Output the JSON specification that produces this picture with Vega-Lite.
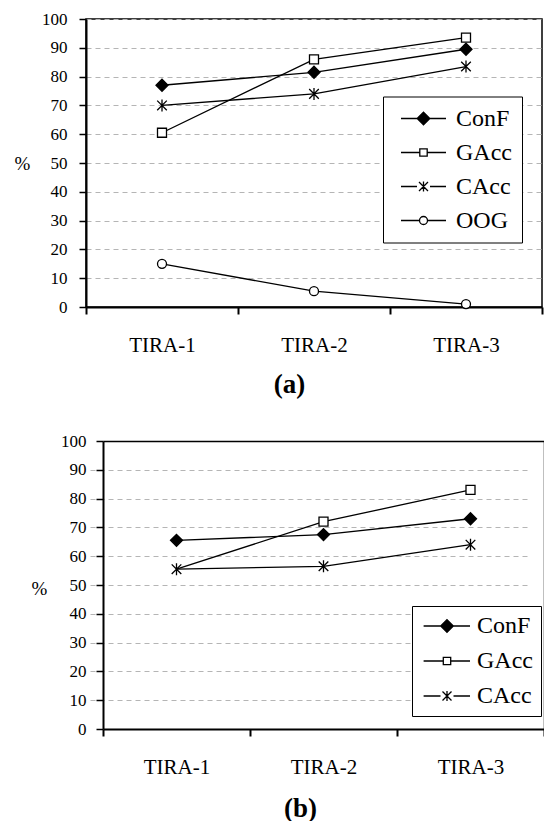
{
  "$schema": "https://vega.github.io/schema/vega-lite/v6.json",
  "background": "white",
  "padding": {"left": 13, "top": 9, "right": 0, "bottom": 0},
  "config": {
    "font": "Liberation Serif",
    "view": {"stroke": "black", "strokeWidth": 1.5},
    "axis": {"labelColor": "black", "titleColor": "black", "domainColor": "black", "tickColor": "black", "labelFont": "Liberation Serif", "titleFont": "Liberation Serif"},
    "legend": {"strokeColor": "black", "fillColor": "white", "labelFont": "Liberation Serif", "labelFontSize": 24, "labelColor": "black", "symbolSize": 400, "symbolStrokeWidth": 1.3, "symbolStrokeColor": "black"}
  },
  "datasets": {
    "a": [
      {"run": "TIRA-1", "series": "ConF", "value": 77},
      {"run": "TIRA-2", "series": "ConF", "value": 81.5},
      {"run": "TIRA-3", "series": "ConF", "value": 89.5},
      {"run": "TIRA-1", "series": "GAcc", "value": 60.5},
      {"run": "TIRA-2", "series": "GAcc", "value": 86},
      {"run": "TIRA-3", "series": "GAcc", "value": 93.5},
      {"run": "TIRA-1", "series": "CAcc", "value": 70},
      {"run": "TIRA-2", "series": "CAcc", "value": 74},
      {"run": "TIRA-3", "series": "CAcc", "value": 83.5},
      {"run": "TIRA-1", "series": "OOG", "value": 15},
      {"run": "TIRA-2", "series": "OOG", "value": 5.5},
      {"run": "TIRA-3", "series": "OOG", "value": 1}
    ],
    "b": [
      {"run": "TIRA-1", "series": "ConF", "value": 65.5},
      {"run": "TIRA-2", "series": "ConF", "value": 67.5},
      {"run": "TIRA-3", "series": "ConF", "value": 73},
      {"run": "TIRA-1", "series": "GAcc", "value": 55.5},
      {"run": "TIRA-2", "series": "GAcc", "value": 72},
      {"run": "TIRA-3", "series": "GAcc", "value": 83},
      {"run": "TIRA-1", "series": "CAcc", "value": 55.5},
      {"run": "TIRA-2", "series": "CAcc", "value": 56.5},
      {"run": "TIRA-3", "series": "CAcc", "value": 64}
    ]
  },
  "columns": 1,
  "spacing": 34,
  "resolve": {"scale": {"shape": "independent", "fill": "independent", "stroke": "independent"}, "legend": {"shape": "independent", "fill": "independent", "stroke": "independent"}},
  "concat": [
    {
      "width": 456,
      "height": 288,
      "data": {"name": "a"},
      "resolve": {"scale": {"shape": "independent", "fill": "independent", "stroke": "independent"}, "legend": {"shape": "independent", "fill": "independent", "stroke": "independent"}},
      "encoding": {
        "x": {
          "field": "run", "type": "nominal", "sort": ["TIRA-1", "TIRA-2", "TIRA-3"],
          "scale": {"type": "band", "paddingInner": 0, "paddingOuter": 0},
          "axis": {"title": "(a)", "titleX": 203, "titleY": 77, "titleFontSize": 27, "titleFontWeight": "bold", "titleBaseline": "middle", "titleAlign": "center", "labelAngle": 0, "labelFontSize": 21, "labelPadding": 20, "tickBand": "extent", "tickSize": 7, "tickWidth": 2, "domainWidth": 2, "grid": false}
        },
        "y": {
          "field": "value", "type": "quantitative",
          "scale": {"domain": [0, 100], "nice": false},
          "axis": {"title": "%", "titleAngle": 0, "titleX": -64, "titleY": 144, "titleAlign": "center", "titleBaseline": "middle", "titleFontSize": 19, "titleFontWeight": "normal", "values": [0, 10, 20, 30, 40, 50, 60, 70, 80, 90, 100], "labelFontSize": 17, "labelPadding": 12, "tickSize": 7, "tickWidth": 1.5, "domainWidth": 2, "grid": true, "gridDash": [5, 4], "gridColor": "#b5b5b5", "gridWidth": 1}
        }
      },
      "layer": [
        {
          "mark": {"type": "line", "color": "black", "strokeWidth": 1.3},
          "encoding": {"detail": {"field": "series", "type": "nominal"}}
        },
        {
          "mark": {"type": "point", "stroke": "black", "strokeWidth": 1.3, "opacity": 1, "size": 144},
          "encoding": {
            "shape": {
              "field": "series", "type": "nominal",
              "scale": {"domain": ["ConF", "GAcc", "CAcc", "OOG"], "range": ["M0,-1L1,0L0,1L-1,0Z", "M-0.75,-0.75H0.75V0.75H-0.75Z", "M-0.8,-0.8L0.8,0.8M-0.8,0.8L0.8,-0.8M0,-1V1", "M-0.75,0A0.75,0.75 0 1,0 0.75,0A0.75,0.75 0 1,0 -0.75,0Z"]},
              "legend": null
            },
            "fill": {
              "field": "series", "type": "nominal",
              "scale": {"domain": ["ConF", "GAcc", "CAcc", "OOG"], "range": ["black", "white", "white", "white"]},
              "legend": null
            }
          }
        },
        {
          "transform": [{"filter": "false"}],
          "mark": {"type": "point", "stroke": "black", "strokeWidth": 1.3, "opacity": 1, "size": 400},
          "encoding": {
            "shape": {
              "field": "series", "type": "nominal",
              "scale": {"domain": ["ConF", "GAcc", "CAcc", "OOG"], "range": ["M-0.4,0H4.1M1.22,0L1.85,-0.63L2.48,0L1.85,0.63Z", "M-0.4,0H1.48M2.22,0H4.1M1.48,-0.37H2.22V0.37H1.48Z", "M-0.4,0H1.2M2.5,0H4.1M1.4,-0.45L2.3,0.45M1.4,0.45L2.3,-0.45M1.85,-0.5V0.5", "M-0.4,0H1.45M2.25,0H4.1M1.45,0A0.4,0.4 0 1,0 2.25,0A0.4,0.4 0 1,0 1.45,0Z"]},
              "legend": {"title": null, "orient": "none", "legendX": 297, "legendY": 77.5, "padding": 10, "rowPadding": 10, "labelOffset": 39, "symbolSize": 400}
            },
            "fill": {
              "field": "series", "type": "nominal",
              "scale": {"domain": ["ConF", "GAcc", "CAcc", "OOG"], "range": ["black", "white", "white", "white"]},
              "legend": {"title": null, "orient": "none", "legendX": 297, "legendY": 77.5, "padding": 10, "rowPadding": 10, "labelOffset": 39, "symbolSize": 400}
            },
            "stroke": {
              "field": "series", "type": "nominal",
              "scale": {"domain": ["ConF", "GAcc", "CAcc", "OOG"], "range": ["black", "black", "black", "black"]},
              "legend": {"title": null, "orient": "none", "legendX": 297, "legendY": 77.5, "padding": 10, "rowPadding": 10, "labelOffset": 39, "symbolSize": 400}
            }
          }
        }
      ]
    },
    {
      "width": 458,
      "height": 288,
      "view": {"stroke": null},
      "data": {"name": "b"},
      "resolve": {"scale": {"shape": "independent", "fill": "independent", "stroke": "independent"}, "legend": {"shape": "independent", "fill": "independent", "stroke": "independent"}, "axis": {"x": "independent", "y": "independent"}},
      "layer": [
        {
          "mark": {"type": "line", "color": "black", "strokeWidth": 1.3},
          "encoding": {
            "x": {"field": "run", "type": "nominal", "sort": ["TIRA-1", "TIRA-2", "TIRA-3"], "scale": {"type": "band", "paddingInner": 0, "paddingOuter": 0, "range": [17, 458]}, "axis": null},
            "y": {"field": "value", "type": "quantitative", "scale": {"domain": [0, 100], "nice": false}, "axis": null},
            "detail": {"field": "series", "type": "nominal"}
          }
        },
        {
          "transform": [{"filter": "!(datum.series === 'GAcc' && datum.run === 'TIRA-1')"}],
          "mark": {"type": "point", "stroke": "black", "strokeWidth": 1.3, "opacity": 1, "size": 144},
          "encoding": {
            "x": {
              "field": "run", "type": "nominal", "sort": ["TIRA-1", "TIRA-2", "TIRA-3"],
              "axis": {"orient": "bottom", "title": "(b)", "titleX": 214, "titleY": 79, "titleFontSize": 27, "titleFontWeight": "bold", "titleBaseline": "middle", "titleAlign": "center", "labelAngle": 0, "labelFontSize": 21, "labelPadding": 20, "tickBand": "extent", "tickSize": 7, "tickWidth": 2, "domainWidth": 2, "grid": false}
            },
            "y": {
              "field": "value", "type": "quantitative",
              "axis": {"orient": "left", "offset": -17, "title": "%", "titleAngle": 0, "titleX": -64, "titleY": 147, "titleAlign": "center", "titleBaseline": "middle", "titleFontSize": 19, "titleFontWeight": "normal", "values": [0, 10, 20, 30, 40, 50, 60, 70, 80, 90, 100], "labelFontSize": 17, "labelPadding": 10, "tickSize": 7, "tickWidth": 1.5, "domainWidth": 2, "grid": false}
            },
            "shape": {
              "field": "series", "type": "nominal",
              "scale": {"domain": ["ConF", "GAcc", "CAcc"], "range": ["M0,-1L1,0L0,1L-1,0Z", "M-0.75,-0.75H0.75V0.75H-0.75Z", "M-0.8,-0.8L0.8,0.8M-0.8,0.8L0.8,-0.8M0,-1V1"]},
              "legend": null
            },
            "fill": {
              "field": "series", "type": "nominal",
              "scale": {"domain": ["ConF", "GAcc", "CAcc"], "range": ["black", "white", "white"]},
              "legend": null
            }
          }
        },
        {
          "transform": [{"filter": "false"}],
          "mark": {"type": "point", "stroke": "black", "strokeWidth": 1.3, "opacity": 1, "size": 400},
          "encoding": {
            "x": {"field": "run", "type": "nominal", "sort": ["TIRA-1", "TIRA-2", "TIRA-3"], "axis": {"orient": "top", "labels": false, "ticks": false, "title": null, "grid": false, "domainWidth": 1.5}},
            "y": {"field": "value", "type": "quantitative", "axis": {"orient": "right", "labels": false, "ticks": false, "title": null, "domainWidth": 1.5, "values": [10, 20, 30, 40, 50, 60, 70, 80, 90], "grid": true, "gridDash": [5, 4], "gridColor": "#b5b5b5", "gridWidth": 1}},
            "shape": {
              "field": "series", "type": "nominal",
              "scale": {"domain": ["ConF", "GAcc", "CAcc"], "range": ["M-0.84,0H3.8M0.87,0L1.5,-0.63L2.13,0L1.5,0.63Z", "M-0.84,0H1.13M1.87,0H3.8M1.13,-0.37H1.87V0.37H1.13Z", "M-0.84,0H0.85M2.15,0H3.8M1.05,-0.45L1.95,0.45M1.05,0.45L1.95,-0.45M1.5,-0.5V0.5"]},
              "legend": {"title": null, "orient": "none", "legendX": 326, "legendY": 165, "padding": 8, "rowPadding": 11, "labelOffset": 33, "symbolSize": 400}
            },
            "fill": {
              "field": "series", "type": "nominal",
              "scale": {"domain": ["ConF", "GAcc", "CAcc"], "range": ["black", "white", "white"]},
              "legend": {"title": null, "orient": "none", "legendX": 326, "legendY": 165, "padding": 8, "rowPadding": 11, "labelOffset": 33, "symbolSize": 400}
            },
            "stroke": {
              "field": "series", "type": "nominal",
              "scale": {"domain": ["ConF", "GAcc", "CAcc"], "range": ["black", "black", "black"]},
              "legend": {"title": null, "orient": "none", "legendX": 326, "legendY": 165, "padding": 8, "rowPadding": 11, "labelOffset": 33, "symbolSize": 400}
            }
          }
        }
      ]
    }
  ]
}
